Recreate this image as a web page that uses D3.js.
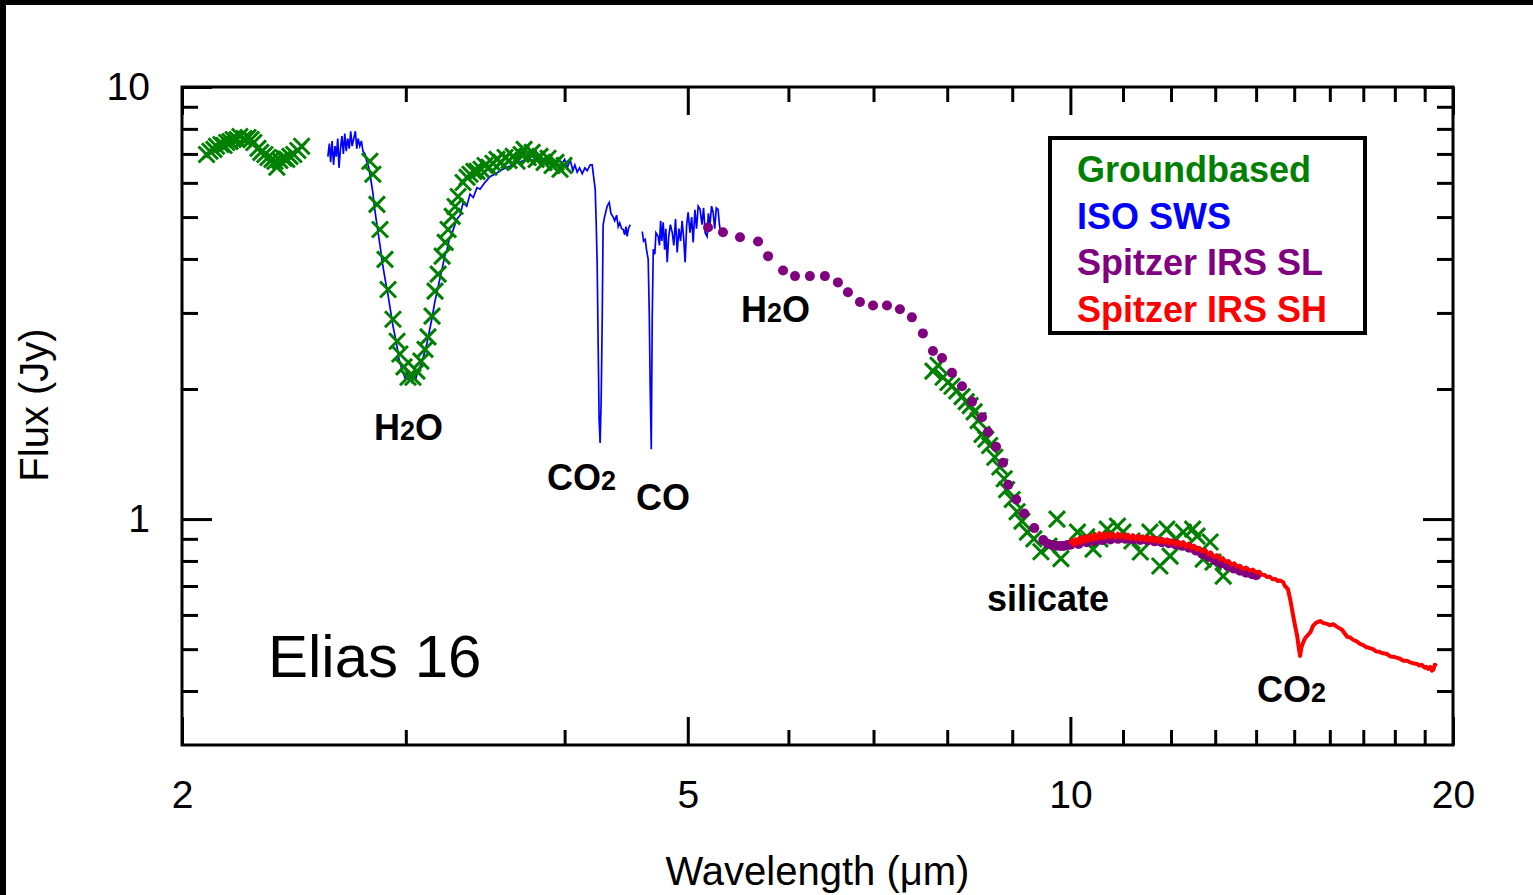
<!DOCTYPE html>
<html>
<head>
<meta charset="utf-8">
<script src="https://cdn.jsdelivr.net/npm/d3@7"></script>
<style>
body { margin: 0; background: #fff; }
text { font-family: "Liberation Sans", Arial, sans-serif; }
</style>
</head>
<body>
<script>
// Elias 16 spectrum: wavelength (um), flux (Jy)
var groundbased = [
  [2.091,6.98],[2.104,7.10],[2.119,7.17],[2.129,7.29],[2.146,7.36],[2.158,7.32],[2.169,7.44],[2.182,7.48],
  [2.194,7.56],[2.210,7.56],[2.221,7.68],[2.238,7.60],[2.254,7.64],[2.267,7.56],[2.278,7.44],[2.295,7.21],
  [2.307,7.06],[2.324,6.98],[2.337,6.87],[2.354,6.80],[2.367,6.73],[2.375,6.52],[2.388,6.76],[2.405,6.84],
  [2.418,6.80],[2.432,6.91],[2.449,6.98],[2.467,7.13],[2.484,7.29],
  [2.811,6.73],[2.826,6.28],[2.847,5.35],[2.863,4.68],[2.889,3.99],[2.905,3.40],[2.931,2.90],[2.953,2.58],
  [2.968,2.41],[2.990,2.25],[3.012,2.13],[3.039,2.13],[3.061,2.20],[3.083,2.32],[3.106,2.47],[3.123,2.64],
  [3.146,2.95],[3.163,3.37],[3.181,3.69],[3.204,4.06],[3.222,4.37],[3.239,4.68],[3.263,5.02],[3.280,5.29],
  [3.298,5.58],[3.328,6.01],[3.352,6.18],[3.370,6.28],[3.394,6.38],[3.413,6.38],[3.438,6.45],[3.463,6.58],
  [3.488,6.52],[3.513,6.66],[3.539,6.80],[3.565,6.69],[3.591,6.87],[3.617,6.76],[3.644,6.91],[3.670,6.73],
  [3.697,6.98],[3.717,7.17],[3.744,6.87],[3.772,7.06],[3.799,6.80],[3.826,6.91],[3.854,6.69],[3.882,6.84],
  [3.910,6.58],[3.938,6.69],[3.967,6.45],[3.996,6.58],
  [7.796,2.20],[7.868,2.27],[7.94,2.13],[8.01,2.07],[8.069,2.03],[8.14,1.98],[8.217,1.92],[8.28,1.87],
  [8.34,1.83],[8.40,1.77],[8.46,1.69],[8.521,1.57],[8.58,1.53],[8.64,1.48],[8.72,1.39],[8.80,1.32],
  [8.87,1.24],[8.91,1.17],[9.00,1.11],[9.08,1.04],[9.16,0.989],[9.25,0.933],[9.36,0.90],[9.48,0.84],
  [9.62,0.866],[9.76,1.0],[9.83,0.81],[10.13,0.933],[10.30,0.91],[10.42,0.852],[10.55,0.90],[10.69,0.948],
  [10.89,0.963],[11.00,0.933],[11.18,0.89],[11.35,0.839],[11.55,0.933],[11.76,0.779],[11.91,0.948],
  [11.98,0.821],[12.10,0.90],[12.27,0.933],[12.48,0.948],[12.58,0.913],[12.72,0.808],[12.88,0.885],
  [12.95,0.795],[13.19,0.738]
];

var isoSwsA = [
  [2.605,6.9],[2.612,7.4],[2.618,6.7],[2.625,7.5],[2.632,6.6],[2.639,7.3],[2.645,6.9],[2.652,7.6],[2.658,6.5],
  [2.665,7.2],[2.672,7.7],[2.679,7.0],[2.686,7.8],[2.693,7.1],[2.700,7.6],[2.708,7.2],[2.715,7.9],[2.722,7.3],
  [2.730,7.6],[2.738,7.9],[2.745,7.2],[2.752,7.6],[2.760,7.3],[2.768,7.5],[2.776,7.1],[2.786,7.0],[2.796,6.7],
  [2.806,6.5],[2.816,6.1],[2.826,5.7],[2.836,5.2],[2.847,4.8],[2.863,4.3],[2.876,3.9],[2.889,3.6],[2.905,3.3],
  [2.915,3.1],[2.931,2.8],[2.942,2.65],[2.953,2.5],[2.963,2.35],[2.975,2.25],[2.985,2.18],[2.996,2.12],
  [3.006,2.2],[3.012,2.1],[3.023,2.16],[3.033,2.08],[3.045,2.14],[3.056,2.12],[3.067,2.2],[3.078,2.25],
  [3.094,2.35],[3.106,2.45],[3.117,2.55],[3.133,2.75],[3.146,2.92],[3.163,3.2],[3.181,3.45],[3.204,3.8],
  [3.222,4.1],[3.233,4.2],[3.246,4.45],[3.263,4.6],[3.275,4.75],[3.292,4.95],[3.310,5.05],[3.328,5.4],
  [3.350,5.3],[3.370,5.65],[3.390,5.55],[3.413,5.85],[3.432,5.8],[3.46,6.0],[3.494,6.2],[3.53,6.3],
  [3.577,6.45],[3.62,6.55],[3.66,6.65],[3.709,6.75],[3.75,6.8],[3.804,6.75],[3.85,6.7],[3.916,6.6],
  [3.967,6.55],[4.0,6.8],[4.02,6.5],[4.040,6.8],[4.06,6.4],[4.075,6.6],[4.092,6.35],[4.11,6.5],[4.13,6.3],
  [4.15,6.5],[4.167,6.4],[4.19,6.6],[4.205,6.6],[4.213,6.3],[4.228,5.8],[4.236,4.8],[4.243,3.9],[4.251,2.5],
  [4.258,1.7],[4.266,1.5],[4.274,1.9],[4.282,2.9],[4.289,4.8],[4.30,5.0],[4.321,5.3],[4.337,5.4],[4.35,5.1],
  [4.368,5.0],[4.38,4.9],[4.395,5.05],[4.408,4.75],[4.42,4.85],[4.435,4.7],[4.448,4.68],[4.46,4.55],
  [4.47,4.75],[4.480,4.51],[4.49,4.7],[4.505,4.8]
];

var isoSwsB = [
  [4.604,4.63],[4.615,4.4],[4.629,4.44],[4.64,4.2],[4.654,3.99],[4.663,3.0],[4.671,2.0],[4.680,1.45],
  [4.688,2.9],[4.697,4.21],[4.71,4.1],[4.72,4.6],[4.739,4.51],[4.75,4.3],[4.76,4.9],[4.770,4.4],[4.782,4.86],
  [4.795,4.2],[4.805,4.7],[4.817,3.93],[4.83,4.5],[4.845,4.8],[4.861,4.61],[4.875,4.3],[4.89,4.95],
  [4.905,4.14],[4.92,4.7],[4.935,4.4],[4.949,4.9],[4.962,4.5],[4.976,3.93],[4.99,4.8],[5.003,5.13],
  [5.02,4.6],[5.035,5.0],[5.049,4.37],[5.065,5.2],[5.08,4.7],[5.095,5.3],[5.113,5.21],[5.13,4.8],
  [5.145,5.25],[5.16,4.6],[5.178,4.51],[5.19,5.1],[5.205,4.8],[5.22,5.3],[5.235,5.13],[5.25,4.7],
  [5.265,5.25],[5.282,5.21],[5.295,4.8],[5.302,4.68]
];

var spitzerSL = [
  [5.187,4.73],[5.329,4.61],[5.496,4.49],[5.679,4.39],[5.783,4.06],[5.942,3.76],[6.072,3.65],[6.238,3.65],
  [6.410,3.65],[6.563,3.53],[6.683,3.35],[6.830,3.18],[6.994,3.12],[7.173,3.12],[7.343,3.06],[7.504,2.93],
  [7.655,2.69],[7.796,2.45],[7.925,2.36],[8.069,2.18],[8.217,2.03],[8.368,1.87],[8.521,1.72],[8.614,1.59],
  [8.740,1.47],[8.852,1.35],[8.934,1.20],[9.066,1.11],[9.198,1.03],[9.366,0.953],[9.520,0.894],[9.60,0.877],
  [9.677,0.871],[9.75,0.868],[9.819,0.866],[9.88,0.866],[9.945,0.871],
  [10.0,0.872],[10.15,0.876],[10.3,0.884],[10.45,0.89],[10.6,0.894],[10.75,0.897],[10.9,0.9],[11.05,0.9],
  [11.2,0.897],[11.35,0.895],[11.5,0.892],[11.65,0.888],[11.8,0.884],[11.95,0.879],[12.1,0.873],[12.25,0.867],
  [12.4,0.858],[12.55,0.846],[12.7,0.831],[12.85,0.817],[13.0,0.803],[13.15,0.79],[13.3,0.778],[13.45,0.768],
  [13.6,0.759],[13.75,0.751],[13.9,0.745],[14.0,0.741]
];

var spitzerSH = [
  [10.0,0.875],[10.03,0.895],[10.06,0.872],[10.1,0.898],[10.13,0.878],[10.17,0.905],[10.2,0.882],
  [10.24,0.91],[10.27,0.888],[10.3,0.912],[10.34,0.893],[10.38,0.918],[10.42,0.896],[10.46,0.922],
  [10.5,0.9],[10.54,0.928],[10.58,0.903],[10.62,0.925],[10.66,0.905],[10.7,0.928],[10.75,0.907],
  [10.8,0.926],[10.85,0.905],[10.9,0.925],[10.95,0.906],[11.0,0.922],[11.05,0.903],[11.1,0.92],
  [11.15,0.9],[11.2,0.918],[11.25,0.898],[11.3,0.915],[11.35,0.895],[11.4,0.912],[11.45,0.893],
  [11.5,0.91],[11.55,0.89],[11.6,0.908],[11.65,0.887],[11.7,0.904],[11.75,0.884],[11.8,0.9],[11.85,0.881],
  [11.91,0.897],[11.97,0.878],[12.03,0.893],[12.09,0.873],[12.15,0.888],[12.21,0.868],[12.27,0.885],
  [12.33,0.862],[12.39,0.877],[12.45,0.856],[12.51,0.868],[12.57,0.848],[12.63,0.858],[12.7,0.84],
  [12.77,0.848],[12.84,0.828],[12.9,0.836],[12.97,0.817],[13.04,0.825],[13.11,0.806],[13.18,0.812],
  [13.25,0.795],[13.32,0.8],[13.39,0.784],[13.46,0.79],[13.53,0.775],[13.6,0.78],[13.67,0.766],
  [13.75,0.772],[13.84,0.76],[13.92,0.764],[14.0,0.752],[14.08,0.755],[14.15,0.743],[14.22,0.742],
  [14.28,0.734],[14.35,0.736],[14.42,0.726],[14.5,0.727],[14.56,0.719],[14.62,0.721],[14.7,0.715],
  [14.75,0.7],[14.83,0.689],[14.89,0.653],[14.94,0.619],[15.0,0.58],[15.08,0.537],[15.13,0.5],[15.16,0.482],
  [15.2,0.505],[15.25,0.519],[15.3,0.53],[15.36,0.537],[15.45,0.548],[15.52,0.566],[15.6,0.575],[15.72,0.581],
  [15.8,0.575],[15.92,0.572],[16.0,0.568],[16.1,0.571],[16.21,0.563],[16.35,0.555],[16.51,0.534],[16.6,0.532],
  [16.7,0.525],[16.8,0.521],[16.9,0.514],[17.0,0.511],[17.1,0.505],[17.2,0.503],[17.3,0.5],[17.4,0.494],
  [17.5,0.493],[17.62,0.489],[17.75,0.487],[17.85,0.481],[17.95,0.48],[18.05,0.478],[18.17,0.475],
  [18.28,0.47],[18.4,0.47],[18.5,0.466],[18.6,0.464],[18.74,0.462],[18.82,0.458],[18.9,0.46],[19.0,0.453],
  [19.05,0.455],[19.12,0.45],[19.19,0.455],[19.25,0.446],[19.3,0.448],[19.35,0.46],[19.42,0.457]
];

var xMajor = [2, 5, 10, 20];
var xMinor = [3, 4, 6, 7, 8, 9, 11, 12, 13, 14, 15, 16, 17, 18, 19];
var yMajor = [1, 10];
var yMinor = [0.4, 0.5, 0.6, 0.7, 0.8, 0.9, 2, 3, 4, 5, 6, 7, 8, 9];

var legendItems = [
  {name: "Groundbased", color: "#008000"},
  {name: "ISO SWS", color: "#0000ff"},
  {name: "Spitzer IRS SL", color: "#800080"},
  {name: "Spitzer IRS SH", color: "#ff0000"}
];

var w = 1533;
var h = 895;
var plotL = 182, plotR = 1453, plotT = 87, plotB = 745;

var svg = d3.select("body").append("svg").attr("width", w).attr("height", h);
svg.append("rect").attr("width", w).attr("height", h).attr("fill", "#fff");
svg.append("rect").attr("x", 0).attr("y", 0).attr("width", w).attr("height", 5).attr("fill", "#000");
svg.append("rect").attr("x", 0).attr("y", 0).attr("width", 6).attr("height", h).attr("fill", "#000");

var x = d3.scaleLog().domain([2, 20]).range([plotL, plotR]);
var y = d3.scaleLog().domain([0.3, 10]).range([plotB, plotT]);

function styleAxis(g) {
  g.select(".domain").remove();
  g.selectAll(".tick line").attr("stroke", "#000").attr("stroke-width", 3);
  g.selectAll(".tick text").attr("fill", "#000").style("font-size", "39px")
    .style("font-family", "'Liberation Sans', Arial, sans-serif");
}

// bottom
svg.append("g").attr("transform", "translate(0," + plotB + ")")
  .call(d3.axisBottom(x).tickValues(xMajor).tickSize(-28).tickPadding(35).tickFormat(d3.format("d")))
  .call(styleAxis);
svg.append("g").attr("transform", "translate(0," + plotB + ")")
  .call(d3.axisBottom(x).tickValues(xMinor).tickSize(-15).tickFormat(""))
  .call(styleAxis);
// top
svg.append("g").attr("transform", "translate(0," + plotT + ")")
  .call(d3.axisTop(x).tickValues(xMajor).tickSize(-28).tickFormat(""))
  .call(styleAxis);
svg.append("g").attr("transform", "translate(0," + plotT + ")")
  .call(d3.axisTop(x).tickValues(xMinor).tickSize(-15).tickFormat(""))
  .call(styleAxis);
// left
svg.append("g").attr("transform", "translate(" + plotL + ",0)")
  .call(d3.axisLeft(y).tickValues(yMajor).tickSize(-30).tickPadding(32).tickFormat(d3.format("d")))
  .call(styleAxis);
svg.append("g").attr("transform", "translate(" + plotL + ",0)")
  .call(d3.axisLeft(y).tickValues(yMinor).tickSize(-16).tickFormat(""))
  .call(styleAxis);
// right
svg.append("g").attr("transform", "translate(" + plotR + ",0)")
  .call(d3.axisRight(y).tickValues(yMajor).tickSize(-30).tickFormat(""))
  .call(styleAxis);
svg.append("g").attr("transform", "translate(" + plotR + ",0)")
  .call(d3.axisRight(y).tickValues(yMinor).tickSize(-16).tickFormat(""))
  .call(styleAxis);

svg.append("rect").attr("x", plotL).attr("y", plotT)
  .attr("width", plotR - plotL).attr("height", plotB - plotT)
  .attr("fill", "none").attr("stroke", "#000").attr("stroke-width", 3);

var line = d3.line().x(function (d) { return x(d[0]); }).y(function (d) { return y(d[1]); });

[isoSwsA, isoSwsB].forEach(function (seg) {
  svg.append("path").datum(seg).attr("d", line)
    .attr("fill", "none").attr("stroke", "#0000ff").attr("stroke-width", 1.7);
});

svg.append("g").selectAll("path")
  .data(groundbased)
  .enter()
  .append("path")
  .attr("transform", function (d) { return "translate(" + x(d[0]) + "," + y(d[1]) + ")"; })
  .attr("d", "M-8,-8L8,8M8,-8L-8,8")
  .attr("stroke", "#008000")
  .attr("stroke-width", 3)
  .attr("fill", "none");

svg.append("g").selectAll("circle")
  .data(spitzerSL)
  .enter()
  .append("circle")
  .attr("cx", function (d) { return x(d[0]); })
  .attr("cy", function (d) { return y(d[1]); })
  .attr("r", 5)
  .attr("fill", "#800080");

svg.append("path").datum(spitzerSH).attr("d", line)
  .attr("fill", "none").attr("stroke", "#ff0000").attr("stroke-width", 4)
  .attr("stroke-linejoin", "round");

// annotations
function label(tx, ty, main, sub, rest) {
  var t = svg.append("text").attr("x", tx).attr("y", ty)
    .style("font-size", "36px").style("font-weight", "bold").attr("fill", "#000");
  t.append("tspan").text(main);
  if (sub) t.append("tspan").style("font-size", "27px").text(sub);
  if (rest) t.append("tspan").text(rest);
}
label(374, 440, "H", "2", "O");
label(547, 490, "CO", "2", "");
label(636, 510, "CO", "", "");
label(741, 322, "H", "2", "O");
label(987, 611, "silicate", "", "");
label(1257, 702, "CO", "2", "");

svg.append("text").attr("x", 268).attr("y", 677)
  .style("font-size", "60px").attr("fill", "#000").text("Elias 16");

// axis titles
svg.append("text").attr("x", (plotL + plotR) / 2).attr("y", 885)
  .attr("text-anchor", "middle").style("font-size", "40px").attr("fill", "#000")
  .text("Wavelength (\u03bcm)");
svg.append("text").attr("transform", "translate(48,405) rotate(-90)")
  .attr("text-anchor", "middle").style("font-size", "40px").attr("fill", "#000")
  .text("Flux (Jy)");

// legend
svg.append("rect").attr("x", 1050).attr("y", 138).attr("width", 315).attr("height", 195)
  .attr("fill", "#fff").attr("stroke", "#000").attr("stroke-width", 4);
svg.append("g").selectAll("text")
  .data(legendItems)
  .enter()
  .append("text")
  .attr("x", 1077)
  .attr("y", function (d, i) { return 182 + i * 46.7; })
  .style("font-size", "36px")
  .style("font-weight", "bold")
  .attr("fill", function (d) { return d.color; })
  .text(function (d) { return d.name; });
</script>
</body>
</html>
